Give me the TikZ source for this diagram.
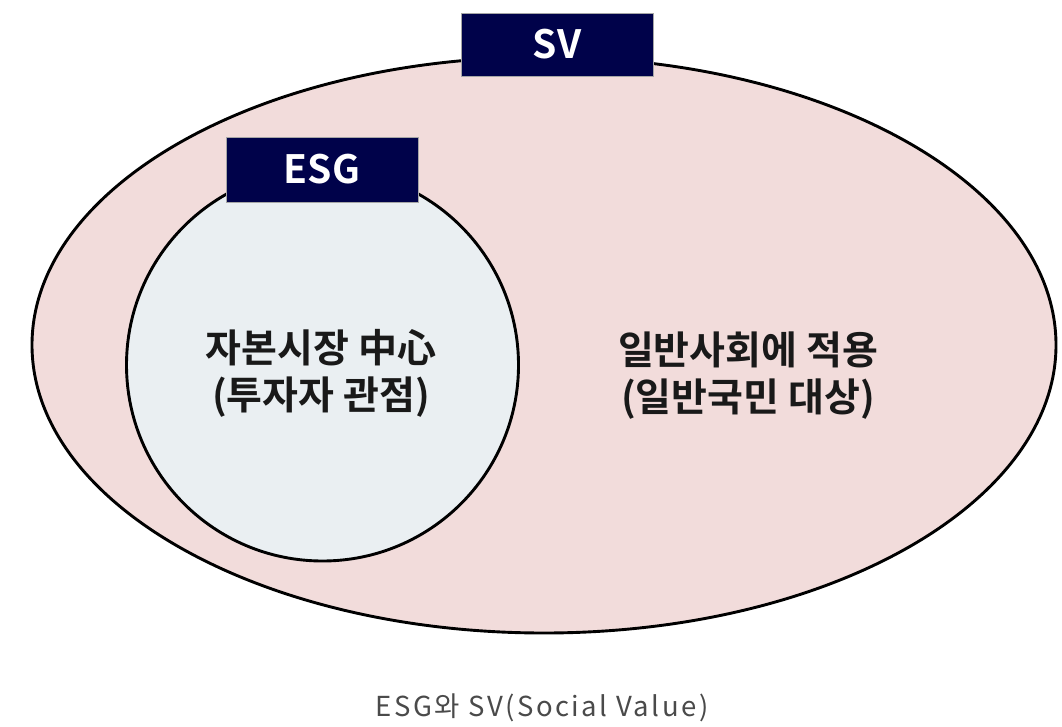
\documentclass[tikz,border=0pt]{standalone}
\usepackage{fontspec}
\usetikzlibrary{shapes.geometric}
\setmainfont{Noto Sans CJK KR}[BoldFont={* Bold}]
\newfontfamily\kr{Noto Sans CJK KR}[BoldFont={* Bold}]
\newfontfamily\krcap{Noto Sans CJK KR}[LetterSpace=9]
\definecolor{pinkfill}{HTML}{F2DCDB}
\definecolor{bluefill}{HTML}{EAEFF2}
\definecolor{navy}{HTML}{00024A}
\definecolor{capgray}{HTML}{4A4A4A}
\tikzset{
  tagbox/.style={draw=gray!70, line width=0.8pt, fill=navy, text=white, font=\kr\bfseries\fontsize{39}{40}\selectfont, inner sep=0pt, anchor=center},
  bodytext/.style={align=center, font=\kr\bfseries\fontsize{39}{47}\selectfont, text=black!90},
  outline/.style={draw=black, line width=2.9pt}
}
\begin{document}
\begin{tikzpicture}[x=1pt,y=-1pt]
\useasboundingbox (0,0) rectangle (1062,727);
\node[outline, fill=pinkfill, ellipse, minimum width=1024pt, minimum height=576pt, inner sep=0pt] (sv) at (544,345) {};
\node[outline, fill=bluefill, circle, minimum size=392pt, inner sep=0pt] (esg) at (322.5,365) {};
\node[tagbox, minimum width=192pt, minimum height=63pt] (svtag) at (557,44.5) {SV};
\node[tagbox, minimum width=192pt, minimum height=65pt] (esgtag) at (322,169.5) {ESG};
\node[bodytext] (esgtext) at (321,373) {자본시장 中心\\(투자자 관점)};
\node[bodytext] (svtext) at (748,376) {일반사회에 적용\\(일반국민 대상)};
\node[font=\krcap\fontsize{27.5}{30}\selectfont, text=capgray] (cap) at (542,708) {ESG와 SV(Social Value)};
\end{tikzpicture}
\end{document}
